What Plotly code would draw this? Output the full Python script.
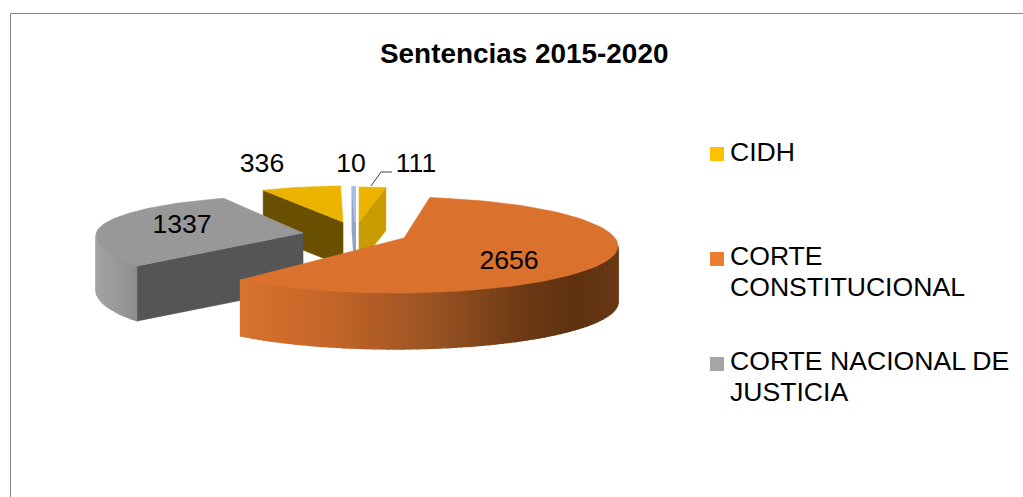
import numpy as np
import plotly.graph_objects as go

# ---- data ----
slice_names = ["CIDH", "CORTE CONSTITUCIONAL", "CORTE NACIONAL DE JUSTICIA", "CIDH (2)", "OTROS"]
slice_values = [111, 2656, 1337, 336, 10]
value_labels = ["111", "2656", "1337", "336", "10"]
legend_names = ["CIDH", "CORTE CONSTITUCIONAL", "CORTE NACIONAL DE JUSTICIA"]
legend_colors = ["#FFC000", "#ED7D31", "#A5A5A5"]
title_text = "Sentencias 2015-2020"

FONT = "Liberation Sans"
total = sum(slice_values)
spans = [v / total * 360 for v in slice_values]
starts = list(np.cumsum([0] + spans[:-1]))
ANG = {i: (starts[i], starts[i] + spans[i]) for i in range(5)}

# exploded 3D view for each slice (pixel space of the hidden axes)
VIEW = {
    0: dict(apex=(359, 222), c=(359, 222), a=172, bb=35, bf=35, rot=0, depth=43),
    1: dict(apex=(404, 238), c=(395, 246), a=223, bb=49, bf=47, rot=0, depth=56),
    2: dict(apex=(303, 233), c=(290, 235), a=194, bb=39, bf=50, rot=8, depth=55),
    3: dict(apex=(343, 222), c=(343, 222), a=170, bb=36, bf=36, rot=0, depth=44),
    4: dict(apex=(355, 222), c=(355, 222), a=172, bb=35, bf=35, rot=0, depth=43),
}


def rim(i, t):
    v = VIEW[i]
    t = np.radians(np.asarray(t, dtype=float) + v["rot"])
    c = np.cos(t)
    return v["c"][0] + v["a"] * np.sin(t), v["c"][1] - np.where(c > 0, v["bb"], v["bf"]) * c


fig = go.Figure()


def poly(xs, ys, color, line=0.6):
    fig.add_trace(go.Scatter(x=list(xs), y=list(ys), mode="lines", fill="toself", fillcolor=color,
                             line=dict(color=color, width=line), hoverinfo="skip", showlegend=False))


def top_face(i, color, line=0.6):
    t0, t1 = ANG[i]
    x, y = rim(i, np.linspace(t0, t1, 80))
    ax, ay = VIEW[i]["apex"]
    poly([ax, *x, ax], [ay, *y, ay], color, line)


def cut_face(i, t, color, line=0.6):
    x, y = rim(i, [t])
    ax, ay = VIEW[i]["apex"]
    d = VIEW[i]["depth"]
    poly([ax, x[0], x[0], ax, ax], [ay, y[0], y[0] + d, ay + d, ay], color, line)


def lerp_color(stops, u):
    for (u0, c0), (u1, c1) in zip(stops, stops[1:]):
        if u <= u1:
            f = (u - u0) / (u1 - u0)
            ch = [round(int(c0[k:k + 2], 16) * (1 - f) + int(c1[k:k + 2], 16) * f) for k in (1, 3, 5)]
            return "#%02x%02x%02x" % tuple(ch)
    return stops[-1][1]


def outer_wall(i, t0, t1, stops, n):
    d = VIEW[i]["depth"]
    ts = np.linspace(t0, t1, n + 1)
    for k in range(n):
        x, y = rim(i, np.linspace(ts[k], ts[k + 1], 5))
        xm = x.mean()
        poly([*x, *x[::-1], x[0]], [*y, *(y[::-1] + d), y[0]], lerp_color(stops, xm), 1.4)


# back slices first, front ones last
# 336
cut_face(3, ANG[3][0], "#685000")
top_face(3, "#ECB400")
# 10
cut_face(4, ANG[4][0], "#8EA3C8", 2)
top_face(4, "#A9BEE0", 2)
# 111
cut_face(0, ANG[0][1], "#C89B00")
top_face(0, "#ECB400")
# 1337
outer_wall(2, ANG[2][0], 270 - VIEW[2]["rot"], [(90, "#a6a6a6"), (137, "#8e8e8e")], 12)
cut_face(2, ANG[2][0], "#555555")
top_face(2, "#989898")
# 2656
outer_wall(1, 90, ANG[1][1],
           [(240, "#D9722D"), (330, "#C4652A"), (430, "#9A5423"), (520, "#6E3A15"), (575, "#5E3110"), (620, "#6A3A16")], 70)
top_face(1, "#DA722D")

# leader line for the small slice
fig.add_trace(go.Scatter(x=[371, 381, 392], y=[186, 172, 172], mode="lines",
                         line=dict(color="#404040", width=1), hoverinfo="skip", showlegend=False))

# value labels
fig.add_trace(go.Scatter(x=[416, 509, 182, 262, 351], y=[165, 262, 226, 165, 165], mode="text",
                         text=value_labels, textposition="middle center",
                         textfont=dict(family=FONT, size=26.6, color="#000000"),
                         hoverinfo="skip", showlegend=False))

# legend
fig.add_trace(go.Scatter(x=[717, 717, 717], y=[154, 259, 364], mode="markers",
                         marker=dict(symbol="square", size=14, color=legend_colors),
                         hoverinfo="skip", showlegend=False))
fig.add_trace(go.Scatter(x=[730] * 5, y=[154, 258, 289, 363, 394], mode="text",
                         text=["CIDH", "CORTE", "CONSTITUCIONAL", "CORTE NACIONAL DE", "JUSTICIA"],
                         textposition="middle right",
                         textfont=dict(family=FONT, size=26.6, color="#000000"),
                         hoverinfo="skip", showlegend=False))

fig.update_layout(
    width=1023, height=497, autosize=False,
    margin=dict(l=0, r=0, t=0, b=0),
    paper_bgcolor="#FFFFFF", plot_bgcolor="#FFFFFF", showlegend=False,
    xaxis=dict(range=[0, 1023], visible=False, fixedrange=True),
    yaxis=dict(range=[497, 0], visible=False, fixedrange=True),
    annotations=[dict(text="<b>%s</b>" % title_text, x=523.5, y=53, xref="x", yref="y", showarrow=False,
                      font=dict(family=FONT, size=27.9, color="#000000"))],
    shapes=[dict(type="rect", xref="x", yref="y", x0=10.5, y0=13.5, x1=1040, y1=520,
                 line=dict(color="#868686", width=1), layer="below")],
)
fig.write_html("out.html", post_script="document.body.style.margin='0';document.body.style.overflow='hidden';",
               config={"displayModeBar": False})
